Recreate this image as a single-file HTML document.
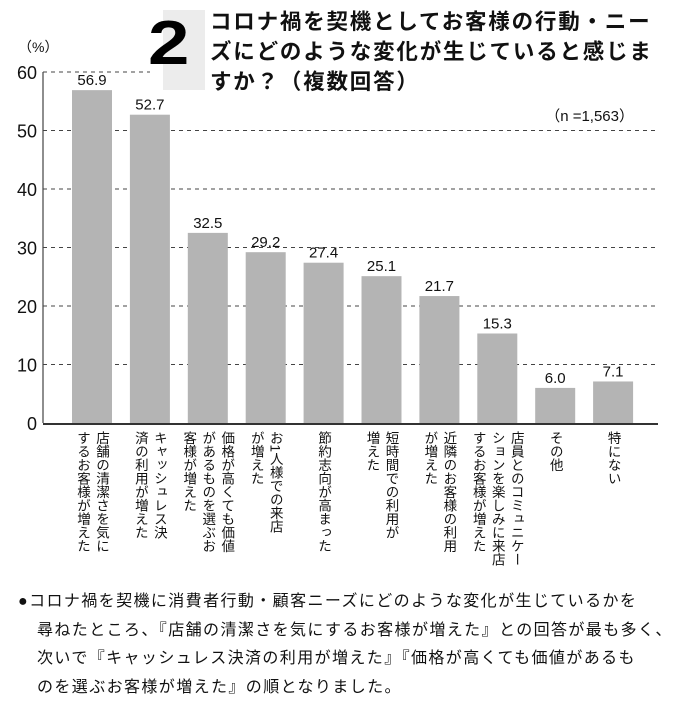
<!DOCTYPE html>
<html><head><meta charset="utf-8">
<style>
body{margin:0;background:#fff;}
#wrap{position:relative;width:680px;height:704px;overflow:hidden;font-family:"Liberation Sans","Noto Sans CJK JP",sans-serif;}
.title{position:absolute;left:210px;top:7px;font-size:21.5px;font-weight:bold;line-height:30px;color:#111;width:470px;letter-spacing:1.8px;white-space:nowrap;}
.lab{position:absolute;top:431px;writing-mode:vertical-rl;font-size:13.5px;line-height:19px;color:#111;font-family:"Liberation Sans","Noto Sans CJK JP",sans-serif;}
.note{position:absolute;left:18px;top:588px;font-size:16px;line-height:28.5px;color:#111;width:660px;letter-spacing:1.4px;white-space:nowrap;}
.note p{margin:0;padding-left:19px;text-indent:-19px;}
</style></head><body>
<div id="wrap">
<svg id="chart" width="680" height="704" style="position:absolute;left:0;top:0"></svg>
<div style="position:absolute;left:163px;top:10px;width:42px;height:80px;background:#ececec"></div>
<div style="position:absolute;left:148px;top:4px;font-size:62px;font-weight:900;font-family:'Liberation Sans',sans-serif;color:#000;transform:scaleX(1.2);transform-origin:left;line-height:80px;">2</div>
<div class="title">コロナ禍を契機としてお客様の行動・ニー<br>ズにどのような変化が生じていると感じま<br>すか？（複数回答）</div>
<div class="note"><p>●コロナ禍を契機に消費者行動・顧客ニーズにどのような変化が生じているかを<br>尋ねたところ、『店舗の清潔さを気にするお客様が増えた』との回答が最も多く、<br>次いで『キャッシュレス決済の利用が増えた』『価格が高くても価値があるも<br>のを選ぶお客様が増えた』の順となりました。</p></div>
</div>
<script>
const categories=["店舗の清潔さを気にするお客様が増えた","キャッシュレス決済の利用が増えた","価格が高くても価値があるものを選ぶお客様が増えた","お1人様での来店が増えた","節約志向が高まった","短時間での利用が増えた","近隣のお客様の利用が増えた","店員とのコミュニケーションを楽しみに来店するお客様が増えた","その他","特にない"];
const labelLines=[["店舗の清潔さを気に","するお客様が増えた"],["キャッシュレス決","済の利用が増えた"],["価格が高くても価値","があるものを選ぶお","客様が増えた"],["お1人様での来店","が増えた"],["節約志向が高まった"],["短時間での利用が","増えた"],["近隣のお客様の利用","が増えた"],["店員とのコミュニケー","ションを楽しみに来店","するお客様が増えた"],["その他"],["特にない"]];
const values=[56.9,52.7,32.5,29.2,27.4,25.1,21.7,15.3,6.0,7.1];
const valueLabels=["56.9","52.7","32.5","29.2","27.4","25.1","21.7","15.3","6.0","7.1"];
const yTicks=[0,10,20,30,40,50,60];
const NS="http://www.w3.org/2000/svg";
const svg=document.getElementById('chart');
const x0=43,x1=658,yBase=423,yTop=72,yMax=60;
function y(v){return yBase-(v/yMax)*(yBase-yTop);}
function xBand(i){return 72+i*57.9;}
const bw=40;
function mk(t,a){const e=document.createElementNS(NS,t);for(const k in a)e.setAttribute(k,a[k]);svg.appendChild(e);return e;}
yTicks.forEach(t=>{
  if(t>0){
    const g=mk('line',{x1:x0,x2:t===60?150:x1,y1:y(t),y2:y(t),stroke:'#444','stroke-width':1,'stroke-dasharray':'4,4'});
    
    
  }
  const tx=mk('text',{x:37,y:y(t)+7,'text-anchor':'end','font-size':18,'font-family':'Liberation Sans,sans-serif',fill:'#111'});
  tx.textContent=t;
  
  
});
const unit=mk('text',{x:18,y:52,'font-size':14,'font-family':'Liberation Sans,sans-serif',fill:'#111'});
unit.textContent='（%）';


const nl=mk('text',{x:634,y:121,'text-anchor':'end','font-size':15,'font-family':'Liberation Sans,Noto Sans CJK JP,sans-serif',fill:'#111'});
nl.textContent='（n =1,563）';


values.forEach((v,i)=>{
  const r=mk('rect',{x:xBand(i),y:y(v),width:bw,height:yBase-y(v),fill:'#b4b4b4'});
  
  
  const t=mk('text',{x:xBand(i)+bw/2,y:y(v)-5,'text-anchor':'middle','font-size':15,'font-family':'Liberation Sans,sans-serif',fill:'#111'});
  t.textContent=valueLabels[i];
  
  
});
const ax=mk('line',{x1:x0,x2:x0,y1:yTop,y2:yBase,stroke:'#444','stroke-width':1.2});


const bx=mk('line',{x1:x0,x2:x1,y1:yBase+1,y2:yBase+1,stroke:'#333','stroke-width':2});


const wrap=document.getElementById('wrap');
labelLines.forEach((lines,i)=>{
  const d=document.createElement('div');
  d.className='lab';
  
  
  d.setAttribute('title',categories[i]);
  d.innerHTML=lines.join('<br>');
  const w=lines.length*19;
  d.style.left=(xBand(i)+bw/2-w/2)+'px';
  wrap.appendChild(d);
});
</script>
</body></html>
